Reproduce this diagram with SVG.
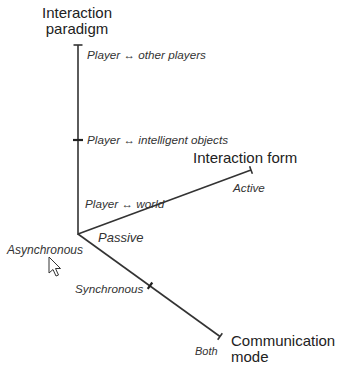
<svg xmlns="http://www.w3.org/2000/svg" width="338" height="366" viewBox="0 0 338 366">
<style>
.axis{stroke:#333;stroke-width:1.6;fill:none;stroke-linecap:butt}
.cap{stroke:#333;stroke-width:1.6;fill:none}
.tick{stroke:#222;stroke-width:2.2;fill:none}
.title{font-family:"Liberation Sans",Arial,sans-serif;font-size:15px;fill:#222}
.lab{font-family:"Liberation Sans",Arial,sans-serif;font-size:11.7px;font-style:italic;fill:#333}
</style>
<rect width="338" height="366" fill="#fff"/>
<g id="connectors">
<line class="axis" x1="78" y1="45" x2="78" y2="235"/>
<line class="cap" x1="73.5" y1="45" x2="82.5" y2="45"/>
<line class="tick" x1="73" y1="140" x2="83" y2="140"/>
<line class="axis" x1="78" y1="234" x2="251" y2="170"/>
<line class="cap" x1="249.6" y1="166.2" x2="252.4" y2="173.8"/>
<line class="axis" x1="78" y1="234" x2="220" y2="336.5"/>
<line class="cap" x1="222.3" y1="333.3" x2="217.7" y2="339.7"/>
<line class="tick" x1="152.3" y1="282.5" x2="147.7" y2="288.9"/>
</g>
<g id="interaction-paradigm">
<text class="title" x="77" y="18" text-anchor="middle">Interaction</text>
<text class="title" x="77" y="34" text-anchor="middle">paradigm</text>
</g>
<g id="interaction-form">
<text class="title" x="193" y="163">Interaction form</text>
</g>
<g id="communication-mode">
<text class="title" x="231" y="346">Communication</text>
<text class="title" x="231" y="362">mode</text>
</g>
<g id="labels">
<text class="lab" x="87" y="59">Player ↔ other players</text>
<text class="lab" x="87" y="144">Player ↔ intelligent objects</text>
<text class="lab" x="85" y="208">Player ↔ world</text>
<text class="lab" x="233" y="192">Active</text>
<text class="lab" x="98" y="242" style="font-size:13px">Passive</text>
<text class="lab" x="7" y="254" style="font-size:12px">Asynchronous</text>
<text class="lab" x="75" y="293">Synchronous</text>
<text class="lab" x="195" y="355" style="font-size:11px">Both</text>
</g>
<g id="cursor">
<path d="M49,257 L49,273 L53,269.5 L56,276 L58.5,275 L55.5,268.5 L60.5,268.5 Z" fill="#fff" stroke="#333" stroke-width="1" stroke-linejoin="round"/>
</g>
</svg>
